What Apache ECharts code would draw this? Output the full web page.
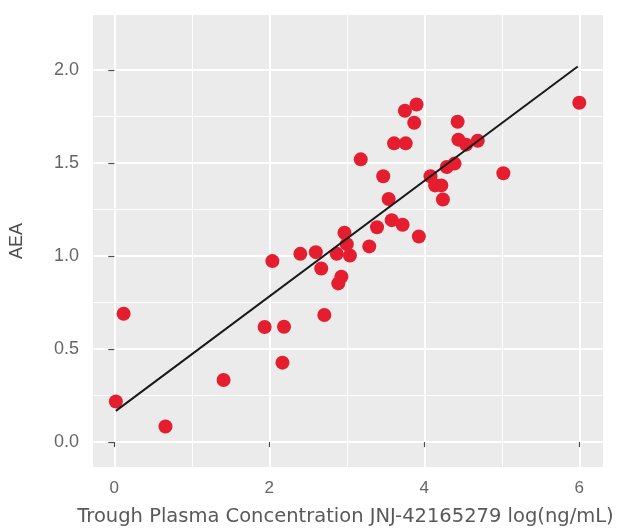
<!DOCTYPE html>
<html>
<head>
<meta charset="utf-8">
<script src="https://cdn.jsdelivr.net/npm/echarts@6/dist/echarts.min.js"></script>
<style>html,body{margin:0;padding:0;background:#fff}#c{width:619px;height:532px}</style>
</head>
<body>
<div id="c"></div>
<script>
// Data
const concX = [0.02,0.12,0.66,1.41,1.94,2.19,2.17,2.04,2.40,2.60,2.67,2.71,2.87,2.89,2.93,2.97,3.00,3.04,3.29,3.39,3.18,3.47,3.54,3.58,3.72,3.61,3.76,3.75,3.90,3.87,3.93,4.08,4.14,4.22,4.24,4.29,4.39,4.43,4.44,4.54,4.69,5.02,6.00];
const aeaY  = [0.218,0.69,0.084,0.334,0.619,0.62,0.427,0.973,1.012,1.021,0.933,0.683,1.012,0.853,0.889,1.125,1.064,1.003,1.052,1.155,1.52,1.429,1.307,1.193,1.168,1.606,1.606,1.781,1.815,1.717,1.105,1.429,1.38,1.38,1.304,1.479,1.497,1.722,1.626,1.599,1.62,1.445,1.824];
const fitX = [0.02, 5.98];
const fitY = [0.168, 2.019];
const xMajorTicks = [0, 2, 4, 6];
const xMinorTicks = [1, 3, 5];
const yMajorTicks = [0, 0.5, 1.0, 1.5, 2.0];
const yMinorTicks = [0.25, 0.75, 1.25, 1.75];
const xTitle = 'Trough Plasma Concentration JNJ-42165279 log(ng/mL)';
const yTitle = 'AEA';

const XMIN = -0.275, XMAX = 6.306, YMIN = -0.134, YMAX = 2.296;
const TICKFONT = 'Liberation Sans';
const TITLEFONT = 'DejaVu Sans';

const chart = echarts.init(document.getElementById('c'), null, {renderer: 'canvas'});
const baseX = {type: 'value', min: XMIN, max: XMAX, axisLine: {show: false}};
const baseY = {type: 'value', min: YMIN, max: YMAX, axisLine: {show: false}};
chart.setOption({
  animation: false,
  backgroundColor: '#ffffff',
  grid: {left: 93, right: 16, top: 15, bottom: 64, show: true, backgroundColor: '#EBEBEC', borderWidth: 0},
  xAxis: [
    Object.assign({}, baseX, {
      position: 'bottom',
      name: xTitle, nameLocation: 'middle', nameGap: 40,
      nameTextStyle: {fontFamily: TITLEFONT, fontSize: 19.5, color: '#595959', padding: [0, 5, 0, 0]},
      axisTick: {show: true, length: 5, customValues: xMajorTicks, lineStyle: {color: '#4D4D4D', width: 1.2}},
      axisLabel: {customValues: xMajorTicks, margin: 13, fontFamily: TICKFONT, fontSize: 17, color: '#666666'},
      splitLine: {show: true, lineStyle: {color: '#FFFFFF', width: 2}}
    }),
    Object.assign({}, baseX, {
      position: 'bottom', show: true,
      axisTick: {show: false, customValues: xMinorTicks},
      axisLabel: {show: false, customValues: xMinorTicks},
      splitLine: {show: true, lineStyle: {color: '#FFFFFF', width: 1}}
    })
  ],
  yAxis: [
    Object.assign({}, baseY, {
      name: yTitle, nameLocation: 'middle', nameGap: 67, nameRotate: 90,
      nameTextStyle: {fontFamily: TICKFONT, fontSize: 18, color: '#4D4D4D'},
      axisTick: {show: true, length: 6, customValues: yMajorTicks, lineStyle: {color: '#4D4D4D', width: 1.2}},
      axisLabel: {customValues: yMajorTicks, margin: 14, fontFamily: TICKFONT, fontSize: 18, color: '#666666',
        formatter: v => v.toFixed(1)},
      splitLine: {show: true, lineStyle: {color: '#FFFFFF', width: 2}}
    }),
    Object.assign({}, baseY, {
      show: true,
      axisTick: {show: false, customValues: yMinorTicks},
      axisLabel: {show: false, customValues: yMinorTicks},
      splitLine: {show: true, lineStyle: {color: '#FFFFFF', width: 1}}
    })
  ],
  series: [
    {
      type: 'scatter', xAxisIndex: 0, yAxisIndex: 0,
      data: concX.map((x, i) => [x, aeaY[i]]),
      symbolSize: 14,
      itemStyle: {color: '#E41E2F', opacity: 1},
      z: 3
    },
    {
      type: 'line', xAxisIndex: 0, yAxisIndex: 0,
      data: fitX.map((x, i) => [x, fitY[i]]),
      showSymbol: false, symbol: 'none',
      lineStyle: {color: '#1A1A1A', width: 2},
      z: 4
    }
  ]
});
</script>
</body>
</html>
